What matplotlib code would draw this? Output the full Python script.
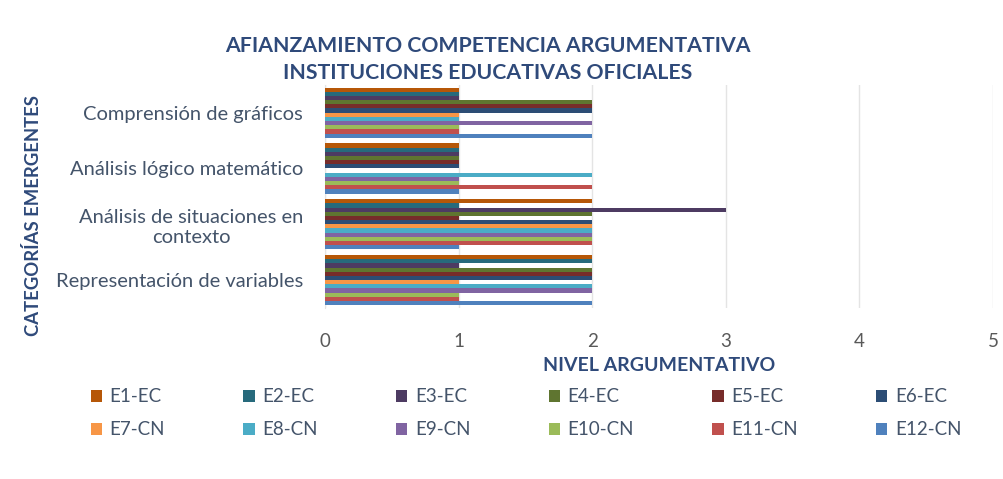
import numpy as np
import matplotlib.pyplot as plt
from matplotlib.patches import Patch

categorias = ["Comprensión de gráficos", "Análisis lógico matemático",
              "Análisis de situaciones en\ncontexto", "Representación de variables"]
series = ["E1-EC", "E2-EC", "E3-EC", "E4-EC", "E5-EC", "E6-EC",
          "E7-CN", "E8-CN", "E9-CN", "E10-CN", "E11-CN", "E12-CN"]

# valores por serie, en el orden de categorias (de arriba hacia abajo)
e1 = [1, 1, 2, 2]
e2 = [1, 1, 1, 2]
e3 = [1, 1, 3, 1]
e4 = [2, 1, 2, 2]
e5 = [2, 1, 1, 2]
e6 = [2, 1, 2, 2]
e7 = [1, 0, 2, 1]
e8 = [1, 2, 2, 2]
e9 = [2, 1, 2, 2]
e10 = [1, 1, 2, 1]
e11 = [1, 2, 2, 1]
e12 = [2, 1, 1, 2]
valores = [e1, e2, e3, e4, e5, e6, e7, e8, e9, e10, e11, e12]

colores = ["#B65708", "#276A7C", "#4D3B62", "#5F7530", "#772C2A", "#2C4D75",
           "#F79646", "#4BACC6", "#8064A2", "#9BBB59", "#C0504D", "#4F81BD"]

plt.rcParams['font.family'] = ['Lato', 'DejaVu Sans']

fig = plt.figure(figsize=(10.04, 4.79), dpi=100)
ax = fig.add_axes([0.324, 0.357, 0.665, 0.466])

y = np.arange(len(categorias))
h = 0.9 / len(series)
for j, (vals, col) in enumerate(zip(valores, colores)):
    ax.barh(y + (j - 5.5) * h, vals, height=h, color=col, zorder=3)

ax.set_ylim(len(categorias) - 0.5, -0.5)
ax.set_xlim(0, 5)
ax.set_xticks(range(6))
ax.set_yticks(y)
ax.set_yticklabels(categorias, fontsize=14.5, color="#44546A", multialignment='center')
ax.tick_params(axis='y', length=0, pad=16)
ax.tick_params(axis='x', length=0, labelsize=13.5, labelcolor="#595959", pad=18)
ax.grid(axis='x', color="#E4E4E4", linewidth=1, zorder=0)
for s in ['top', 'right', 'bottom']:
    ax.spines[s].set_visible(False)
ax.spines['left'].set_color("#E4E4E4")

ax.set_xlabel("NIVEL ARGUMENTATIVO", fontsize=14, fontweight='bold', color="#2F4A7A", labelpad=5)
fig.text(0.033, 0.551, "CATEGORÍAS EMERGENTES", rotation=90, fontsize=13.3, fontweight='bold',
         color="#2F4A7A", ha='center', va='center')

fig.text(0.486, 0.905, "AFIANZAMIENTO COMPETENCIA ARGUMENTATIVA", fontsize=15.3, fontweight='bold',
         color="#2F4A7A", ha='center', va='center')
fig.text(0.486, 0.847, "INSTITUCIONES EDUCATIVAS OFICIALES", fontsize=15.3, fontweight='bold',
         color="#2F4A7A", ha='center', va='center')

handles = [Patch(facecolor=c, label=s) for s, c in zip(series, colores)]
# orden por filas: ncol=6 rellena por columnas, así que se reordena
orden = [0, 6, 1, 7, 2, 8, 3, 9, 4, 10, 5, 11]
leg = fig.legend([handles[i] for i in orden], [series[i] for i in orden], ncol=6,
                 loc='center', bbox_to_anchor=(0.524, 0.137), frameon=False,
                 fontsize=13.5, handlelength=0.6, handleheight=0.6, handletextpad=0.4,
                 columnspacing=4.18, labelspacing=0.85)
for t in leg.get_texts():
    t.set_color("#44546A")

fig.savefig("out.png", dpi=100)
